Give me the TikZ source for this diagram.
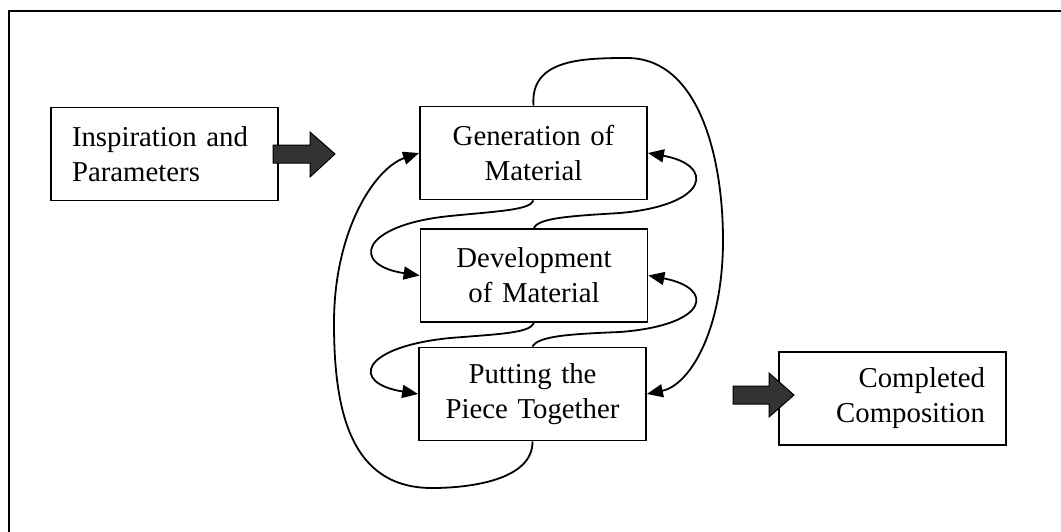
\documentclass[tikz,border=0pt]{standalone}
\usepackage{fontspec}
\setmainfont{Liberation Serif}
\usetikzlibrary{arrows.meta}

\tikzset{
  box/.style={draw, line width=0.9pt, minimum height=46.5pt, inner xsep=10.5pt,
    text width=92.5pt, font=\fontsize{14.4}{17.5}\selectfont},
  link/.style={line width=0.9pt, -{Triangle[length=8pt, width=6.5pt]}},
  blockarrow/.style={draw=black, line width=0.5pt, fill=black!80}
}

\begin{document}
\begin{tikzpicture}[x=0.5pt, y=-0.5pt]
        \useasboundingbox (0,0) rectangle (1061,531);

        % frame
        \draw[line width=1.1pt] (1070,11) -- (9,11) -- (9,540);

        % boxes
        \node[box, align=left] (insp) at (164.5,154) {Inspiration and\\Parameters};
        \node[box, align=center] (gen) at (533.5,153) {Generation of\\Material};
        \node[box, align=center] (dev) at (534,275.5) {Development\\of Material};
        \node[box, align=center] (put) at (532.5,394) {Putting the\\Piece Together};
        \node[box, align=right] (comp) at (892.5,398.5) {Completed\\Composition};

        % block arrows
        \filldraw[blockarrow] (273,145) -- (310,145) -- (310,132) -- (335,154)
            -- (310,177) -- (310,163) -- (273,163) -- cycle;
        \filldraw[blockarrow] (733,386) -- (769,386) -- (769,373) -- (794,395)
            -- (769,417) -- (769,404) -- (733,404) -- cycle;

        % generation -> development
        \draw[link] (gen.south) .. controls (530,210) and (500,211) .. (450,216)
            .. controls (360,225) and (350,265) .. (dev.west);
        % development -> generation
        \draw[link] (dev.north) .. controls (538,218) and (570,216) .. (620,213)
            .. controls (710,205) and (715,165) .. (gen.east);

        % development -> putting together
        \draw[link] (dev.south) .. controls (530,333) and (500,334) .. (450,338)
            .. controls (360,347) and (350,383) .. (put.west);
        % putting together -> development
        \draw[link] (put.north) .. controls (538,336) and (570,334) .. (620,332)
            .. controls (710,325) and (715,288) .. (dev.east);

        % generation -> putting together (outer, right)
        \draw[link] (gen.north) .. controls (530,60) and (580,58) .. (627,58)
            .. controls (700,58) and (723,160) .. (723,240)
            .. controls (723,330) and (690,385) .. (put.east);
        % putting together -> generation (outer, left)
        \draw[link] (put.south) .. controls (533,480) and (470,488) .. (432,488)
            .. controls (350,488) and (334,410) .. (334,323)
            .. controls (334,230) and (375,168) .. (gen.west);
\end{tikzpicture}
\end{document}
